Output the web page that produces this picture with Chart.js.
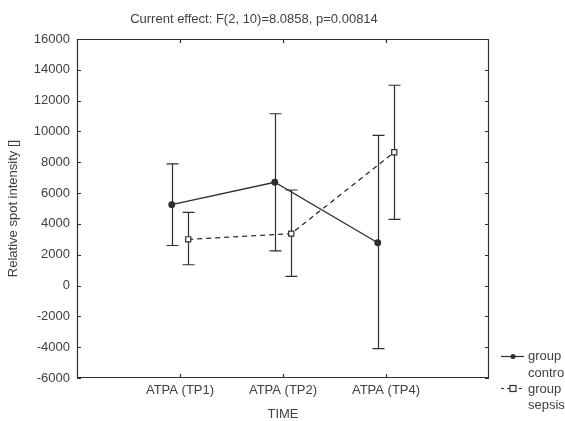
<!DOCTYPE html>
<html>
<head>
  <meta charset="UTF-8">
  <title>Relative spot intensity</title>
  <script src="https://cdn.jsdelivr.net/npm/chart.js"></script>
  <style>
    body { margin: 0; background: #fff; }
    #wrap { width: 565px; height: 421px; }
  </style>
</head>
<body>
  <div id="wrap"><canvas id="chart"></canvas></div>
  <script>
    const categories = ["ATPA (TP1)", "ATPA (TP2)", "ATPA (TP4)"];
    const controlMean = [5250, 6700, 2780];
    const controlLow = [2600, 2250, -4100];
    const controlHigh = [7900, 11150, 9750];
    const sepsisMean = [3000, 3370, 8650];
    const sepsisLow = [1350, 600, 4300];
    const sepsisHigh = [4750, 6200, 13000];
    const yTicks = [-6000, -4000, -2000, 0, 2000, 4000, 6000, 8000, 10000, 12000, 14000, 16000];

    const ink = "#2e2e2e";
    const textCol = "#404040";
    const family = "'Liberation Sans', Arial, sans-serif";
    const font = { family: family, size: 13 };

    const shift = 0.08; // control left, sepsis right of each category

    const controlPts = controlMean.map((v, i) => ({ x: i + 1 - shift, y: v, lo: controlLow[i], hi: controlHigh[i] }));
    const sepsisPts = sepsisMean.map((v, i) => ({ x: i + 1 + shift, y: v, lo: sepsisLow[i], hi: sepsisHigh[i] }));

    // error bars, frame with inner ticks, title and legend
    const extras = {
      id: "extras",
      beforeDatasetsDraw(chart) {
        const ctx = chart.ctx, x = chart.scales.x, y = chart.scales.y;
        ctx.save();
        ctx.strokeStyle = ink;
        ctx.lineWidth = 1.2;
        chart.data.datasets.forEach(ds => {
          ds.data.forEach(p => {
            const px = Math.round(x.getPixelForValue(p.x)) + 0.5;
            const top = y.getPixelForValue(p.hi), bot = y.getPixelForValue(p.lo);
            ctx.beginPath();
            ctx.moveTo(px, top); ctx.lineTo(px, bot);
            ctx.moveTo(px - 6, top); ctx.lineTo(px + 6, top);
            ctx.moveTo(px - 6, bot); ctx.lineTo(px + 6, bot);
            ctx.stroke();
          });
        });
        ctx.restore();
      },
      afterDraw(chart) {
        const ctx = chart.ctx, a = chart.chartArea, x = chart.scales.x, y = chart.scales.y;
        ctx.save();
        ctx.strokeStyle = ink;
        ctx.lineWidth = 1.2;
        ctx.beginPath();
        ctx.rect(a.left + 0.5, a.top + 0.5, a.right - a.left - 1, a.bottom - a.top - 1);
        x.ticks.forEach(t => {
          const px = Math.round(x.getPixelForValue(t.value)) + 0.5;
          ctx.moveTo(px, a.top); ctx.lineTo(px, a.top + 4);
          ctx.moveTo(px, a.bottom); ctx.lineTo(px, a.bottom - 4);
        });
        y.ticks.forEach(t => {
          const py = Math.round(y.getPixelForValue(t.value)) + 0.5;
          ctx.moveTo(a.left, py); ctx.lineTo(a.left + 4, py);
          ctx.moveTo(a.right, py); ctx.lineTo(a.right - 4, py);
        });
        ctx.stroke();

        // title
        ctx.fillStyle = textCol;
        ctx.font = "13px " + family;
        ctx.textAlign = "center";
        ctx.textBaseline = "middle";
        ctx.fillText("Current effect: F(2, 10)=8.0858, p=0.00814", 254, 19);

        // legend
        const lx = a.right + 12;
        ctx.textAlign = "left";
        ctx.lineWidth = 1.2;
        ctx.beginPath();
        ctx.moveTo(lx, 356.5); ctx.lineTo(lx + 23, 356.5);
        ctx.stroke();
        ctx.beginPath();
        ctx.arc(lx + 12, 356.5, 2.5, 0, Math.PI * 2);
        ctx.fillStyle = ink; ctx.fill();
        ctx.setLineDash([3, 3]);
        ctx.beginPath();
        ctx.moveTo(lx, 388.5); ctx.lineTo(lx + 23, 388.5);
        ctx.stroke();
        ctx.setLineDash([]);
        ctx.fillStyle = "#fff";
        ctx.fillRect(lx + 9, 385.5, 6, 6);
        ctx.strokeRect(lx + 9, 385.5, 6, 6);
        ctx.fillStyle = textCol;
        ctx.fillText("group", lx + 27, 356);
        ctx.fillText("control", lx + 27, 373);
        ctx.fillText("group", lx + 27, 389);
        ctx.fillText("sepsis", lx + 27, 405);
        ctx.restore();
      }
    };

    new Chart(document.getElementById("chart"), {
      type: "scatter",
      data: {
        datasets: [
          {
            label: "group control",
            data: controlPts,
            showLine: true,
            borderColor: ink,
            borderWidth: 1.3,
            pointStyle: "circle",
            pointRadius: 2.8,
            pointBackgroundColor: ink,
            pointBorderColor: ink
          },
          {
            label: "group sepsis",
            data: sepsisPts,
            showLine: true,
            borderColor: ink,
            borderWidth: 1.3,
            borderDash: [5, 4],
            pointStyle: "rect",
            pointRadius: 3.6,
            pointBorderWidth: 1.2,
            pointBackgroundColor: "#fff",
            pointBorderColor: ink
          }
        ]
      },
      options: {
        responsive: true,
        maintainAspectRatio: false,
        animation: false,
        layout: { padding: { left: 0, right: 76, top: 39, bottom: 0 } },
        plugins: {
          legend: { display: false },
          tooltip: { enabled: false }
        },
        scales: {
          x: {
            type: "linear",
            min: 0,
            max: 4,
            afterBuildTicks: s => { s.ticks = categories.map((c, i) => ({ value: i + 1 })); },
            afterFit: s => { s.height = 43; },
            ticks: {
              color: textCol,
              font: font,
              padding: 5,
              maxRotation: 0,
              callback: v => categories[v - 1]
            },
            grid: { drawOnChartArea: false, drawTicks: false },
            border: { display: false },
            title: {
              display: true,
              text: "TIME",
              color: textCol,
              font: { family: family, size: 13, lineHeight: 1 },
              padding: { top: 0, bottom: 0 }
            }
          },
          y: {
            min: -6000,
            max: 16000,
            afterBuildTicks: s => { s.ticks = yTicks.map(v => ({ value: v })); },
            afterFit: s => { s.width = 77; },
            ticks: { color: textCol, font: font, padding: 7, callback: v => String(v) },
            grid: { drawOnChartArea: false, drawTicks: false },
            border: { display: false },
            title: {
              display: true,
              text: "Relative spot intensity []",
              color: textCol,
              font: { family: family, size: 13, lineHeight: 1.2 },
              padding: { top: 6, bottom: 0 }
            }
          }
        }
      },
      plugins: [extras]
    });
  </script>
</body>
</html>
